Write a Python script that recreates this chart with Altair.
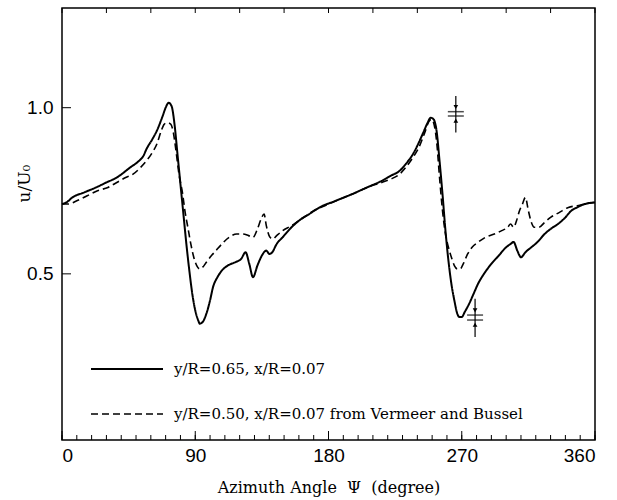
import altair as alt
import pandas as pd

# ---- data ----
solid_deg = [0, 3, 7, 15, 23, 30, 37, 46, 52, 55, 57, 61, 64, 68, 70, 72, 74, 76, 78, 80,
             82, 84, 86, 88, 90, 92, 93, 95, 97.5, 100, 102, 105, 108, 112, 117, 121, 124,
             126.5, 129, 132, 135, 138, 140, 142, 145, 149, 155, 160, 167, 174, 185, 196,
             206, 216, 222, 228, 233, 237, 241, 244, 247, 249, 251, 253, 255, 257, 259, 261,
             263, 265, 267, 268.5, 270, 272, 275, 278, 281, 285, 290, 295, 300, 303, 305,
             307.5, 310, 313, 317, 321, 326, 330, 335, 340, 344, 348, 353, 360]
solid_val = [0.71, 0.715, 0.73, 0.745, 0.76, 0.775, 0.79, 0.82, 0.84, 0.855, 0.875, 0.905,
             0.93, 0.975, 1.0, 1.015, 1.005, 0.95, 0.86, 0.77, 0.68, 0.59, 0.51, 0.44, 0.39,
             0.36, 0.35, 0.355, 0.38, 0.42, 0.46, 0.49, 0.51, 0.525, 0.535, 0.545, 0.565,
             0.53, 0.49, 0.525, 0.555, 0.57, 0.56, 0.565, 0.59, 0.61, 0.64, 0.66, 0.68, 0.70,
             0.72, 0.74, 0.76, 0.78, 0.795, 0.81, 0.835, 0.86, 0.895, 0.925, 0.955, 0.97,
             0.965, 0.93, 0.84, 0.74, 0.63, 0.54, 0.47, 0.42, 0.38, 0.37, 0.37, 0.385, 0.41,
             0.44, 0.47, 0.5, 0.53, 0.555, 0.58, 0.59, 0.596, 0.57, 0.55, 0.565, 0.58, 0.595,
             0.62, 0.635, 0.65, 0.67, 0.69, 0.70, 0.71, 0.715]

dash_deg = [0, 4, 10, 17, 24, 31, 37, 43, 48, 53, 57, 61, 64, 67, 69, 71.5, 73.5, 75, 77, 79,
            81.5, 83, 85, 87, 89, 91, 93, 95, 97.5, 101, 104, 108, 113, 118, 122, 126, 129,
            132, 134.5, 136.5, 138, 140.5, 142.5, 145, 149, 155, 160, 165, 170, 175, 185, 196,
            206, 216, 222, 228, 233, 237, 241, 245, 248, 249.5, 251, 253, 255, 257, 259, 261,
            263, 265, 267, 269, 271, 274, 277, 281, 286, 292, 297, 301, 303, 305, 307, 309,
            311, 313, 315, 317, 319, 322, 326, 330, 336, 342, 348, 353, 360]
dash_val = [0.71, 0.71, 0.72, 0.735, 0.75, 0.76, 0.775, 0.79, 0.80, 0.82, 0.84, 0.865, 0.89,
            0.93, 0.95, 0.955, 0.95, 0.93, 0.87, 0.80, 0.74, 0.69, 0.64, 0.59, 0.55, 0.525,
            0.515, 0.52, 0.535, 0.555, 0.57, 0.59, 0.61, 0.62, 0.62, 0.615, 0.61, 0.635, 0.665,
            0.68, 0.645, 0.61, 0.605, 0.615, 0.63, 0.645, 0.66, 0.675, 0.69, 0.70, 0.72, 0.74,
            0.76, 0.775, 0.785, 0.80, 0.825, 0.85, 0.88, 0.925, 0.96, 0.965, 0.955, 0.9, 0.79,
            0.69, 0.62, 0.58, 0.55, 0.525, 0.515, 0.515, 0.53, 0.56, 0.58, 0.595, 0.61, 0.62,
            0.63, 0.64, 0.65, 0.64, 0.66, 0.69, 0.71, 0.73, 0.69, 0.655, 0.64, 0.64, 0.655,
            0.67, 0.685, 0.70, 0.705, 0.71, 0.715]

series_names = ["y/R=0.65, x/R=0.07", "y/R=0.50, x/R=0.07 from Vermeer and Bussel"]

# error-bar markers
err_deg = [266, 279]
err_line_hi = [0.988, 0.376]
err_line_lo = [0.975, 0.361]
err_stem_top = [1.035, 0.425]
err_stem_bot = [0.925, 0.31]
err_arrow_top = [1.002, 0.39]
err_arrow_bot = [0.961, 0.347]

x_tick_labels = [0, 90, 180, 270, 360]
y_tick_labels = [0.5, 1.0]
bottom_minor = list(range(0, 361, 10))
top_minor = list(range(0, 361, 30))

W, H = 533, 432

df = pd.concat([
    pd.DataFrame({"deg": solid_deg, "val": solid_val, "series": series_names[0]}),
    pd.DataFrame({"deg": dash_deg, "val": dash_val, "series": series_names[1]}),
])
err = pd.DataFrame({"deg": err_deg, "hi": err_line_hi, "lo": err_line_lo,
                    "st": err_stem_top, "sb": err_stem_bot,
                    "at": err_arrow_top, "ab": err_arrow_bot})
bt = pd.DataFrame({"deg": bottom_minor,
                   "major": [d % 90 == 0 for d in bottom_minor]})
tt = pd.DataFrame({"deg": top_minor})
yt = pd.DataFrame({"val": y_tick_labels})

xs = alt.Scale(domain=[0, 360], nice=False, zero=False)
ys = alt.Scale(domain=[0, 1.3], nice=False)

x_axis = alt.Axis(values=x_tick_labels, title="Azimuth Angle\u00a0\u00a0Ψ\u00a0\u00a0(degree)",
                  ticks=False, domain=False, grid=False,
                  labelFont="Liberation Sans", labelFontSize=19, labelPadding=6,
                  labelColor="black", titleFont="DejaVu Serif", titleFontSize=16,
                  titleFontWeight="normal", titleColor="black", titlePadding=14)
y_axis = alt.Axis(values=y_tick_labels, format=".1f", title="u/U\u2080",
                  ticks=False, domain=False, grid=False,
                  labelFont="Liberation Sans", labelFontSize=19, labelPadding=9,
                  labelColor="black", titleFont="DejaVu Serif", titleFontSize=17,
                  titleFontWeight="normal", titleColor="black",
                  titleAngle=270, titleX=-38, titleY=175,
                  titleAlign="center", titleBaseline="middle")

lines = alt.Chart(df).mark_line(color="black", interpolate="monotone").encode(
    x=alt.X("deg:Q", scale=xs, axis=x_axis),
    y=alt.Y("val:Q", scale=ys, axis=y_axis),
    strokeDash=alt.StrokeDash(
        "series:N",
        scale=alt.Scale(domain=series_names, range=[[1, 0], [7, 4]]),
        legend=alt.Legend(orient="none", legendX=28, legendY=324, title=None,
                          symbolType="stroke", symbolSize=5184, symbolStrokeWidth=1.8,
                          symbolStrokeColor="black", labelFont="DejaVu Serif",
                          labelFontSize=15, labelColor="black", labelOffset=10,
                          labelLimit=600, rowPadding=-30)),
    strokeWidth=alt.StrokeWidth("series:N",
                                scale=alt.Scale(domain=series_names, range=[2.0, 1.6]),
                                legend=None),
    order=alt.Order("deg:Q"),
)

stems = alt.Chart(err).mark_rule(color="black", strokeWidth=1.2).encode(
    x=alt.X("deg:Q", scale=xs), y=alt.Y("st:Q", scale=ys), y2="sb:Q")
bar_hi = alt.Chart(err).mark_tick(color="black", orient="horizontal", size=16,
                                  thickness=1.5).encode(
    x=alt.X("deg:Q", scale=xs), y=alt.Y("hi:Q", scale=ys))
bar_lo = alt.Chart(err).mark_tick(color="black", orient="horizontal", size=16,
                                  thickness=1.5).encode(
    x=alt.X("deg:Q", scale=xs), y=alt.Y("lo:Q", scale=ys))
arr_top = alt.Chart(err).mark_point(shape="triangle-down", filled=True, color="black",
                                    size=22, opacity=1).encode(
    x=alt.X("deg:Q", scale=xs), y=alt.Y("at:Q", scale=ys))
arr_bot = alt.Chart(err).mark_point(shape="triangle-up", filled=True, color="black",
                                    size=22, opacity=1).encode(
    x=alt.X("deg:Q", scale=xs), y=alt.Y("ab:Q", scale=ys))

btick = alt.Chart(bt).mark_rule(color="black", strokeWidth=1).encode(
    x=alt.X("deg:Q", scale=xs), y=alt.value(H), y2=alt.value(H - 5))
btick_major = alt.Chart(bt[bt["major"]]).mark_rule(color="black", strokeWidth=1).encode(
    x=alt.X("deg:Q", scale=xs), y=alt.value(H), y2=alt.value(H - 9))
ttick = alt.Chart(tt).mark_rule(color="black", strokeWidth=1).encode(
    x=alt.X("deg:Q", scale=xs), y=alt.value(0), y2=alt.value(5))
ytick = alt.Chart(yt).mark_rule(color="black", strokeWidth=1).encode(
    y=alt.Y("val:Q", scale=ys), x=alt.value(0), x2=alt.value(9))

chart = alt.layer(lines, stems, bar_hi, bar_lo, arr_top, arr_bot,
                  btick, btick_major, ttick, ytick).properties(
    width=W, height=H,
    autosize=alt.AutoSizeParams(type="none"),
    padding={"left": 62, "top": 8, "right": 22, "bottom": 60},
    background="white",
).configure_view(stroke="black", strokeWidth=1.5)

chart.save("out.html", embed_options={"renderer": "svg", "actions": False})
